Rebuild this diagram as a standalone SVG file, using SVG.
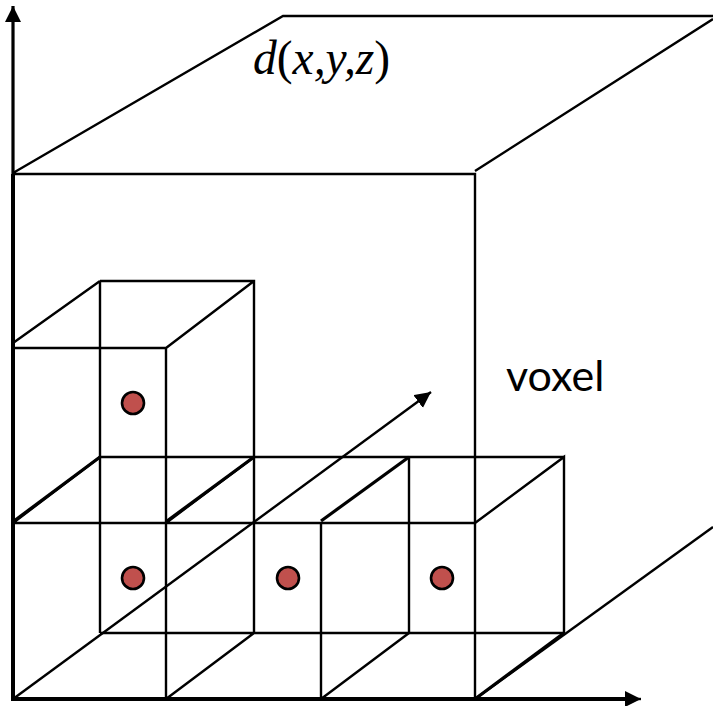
<svg xmlns="http://www.w3.org/2000/svg" width="713" height="706" viewBox="0 0 713 706">
<style>
line,path.l{stroke:#000;stroke-width:2.4;fill:none}
.t{stroke-width:4}
.a{stroke-width:3.2}
circle{fill:#c0504d;stroke:#000;stroke-width:2.6}
</style>
<defs>
<marker id="h" markerUnits="userSpaceOnUse" markerWidth="20" markerHeight="20" refX="16" refY="8" orient="auto"><path d="M0 0L16 8L0 16z" fill="#000"/></marker>
</defs>
<rect width="713" height="706" fill="#fff"/>
<g id="connectors">
<line class="a" x1="13" y1="174" x2="13" y2="6" marker-end="url(#h)"/>
<line class="t" x1="13" y1="174" x2="13" y2="701"/>
<line class="t" x1="11" y1="699" x2="630" y2="699"/>
<line x1="626" y1="699" x2="641" y2="699" marker-end="url(#h)"/>
<line x1="13" y1="699" x2="431" y2="392" marker-end="url(#h)"/>
<line x1="475" y1="699" x2="713" y2="527"/>
<line x1="475" y1="699" x2="564" y2="633" class="a"/>
</g>
<g id="big-box">
<path class="l" d="M13 174H475V699M13 173L283 16H713M475 171L713 19"/>
</g>
<g id="voxel-top">
<path class="l" d="M13 348H166V523M100 281H254V457M100 281V633M13 343L100 281M166 348L254 281"/>
<circle cx="133" cy="403" r="11"/>
</g>
<g id="voxel-1">
<path class="l" d="M13 523H475M100 457H564M100 633H564M166 523V699M13 523L100 457M166 523L254 457M166 699L254 633M254 457V633"/>
<line class="a" x1="14" y1="521" x2="100" y2="457"/>
<line class="a" x1="167" y1="521" x2="254" y2="457"/>
<circle cx="133" cy="578" r="11"/>
</g>
<g id="voxel-2">
<path class="l" d="M321 523V699M321 699L409 633M409 457V633"/>
<line class="a" x1="321" y1="521" x2="409" y2="457"/>
<circle cx="288" cy="578" r="11"/>
</g>
<g id="voxel-3">
<path class="l" d="M475 523L564 457V633"/>
<circle cx="442" cy="578" r="11"/>
</g>
<text x="253" y="74" font-family="Liberation Serif, serif" font-size="47.5" font-style="italic">d<tspan font-style="normal">(</tspan>x,y,z<tspan font-style="normal">)</tspan></text>
<text x="506" y="391" font-family="Lato, sans-serif" font-size="43">voxel</text>
</svg>
